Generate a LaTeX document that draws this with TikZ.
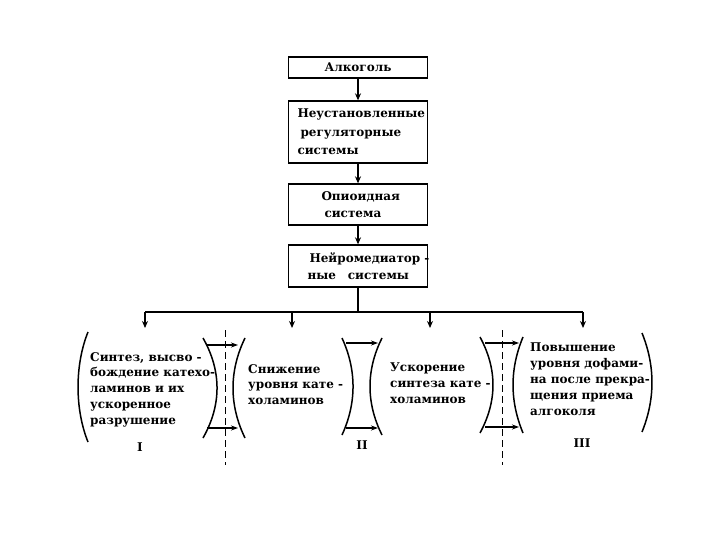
\documentclass[tikz,border=0pt]{standalone}
\usepackage{fontspec}
\setmainfont{DejaVu Serif}
\usetikzlibrary{arrows.meta,positioning,calc}

\begin{document}
\begin{tikzpicture}[x=1pt,y=-1pt,font=\bfseries\fontsize{12}{15.8}\selectfont]

\tikzset{levelbox/.style={draw,line width=1.3pt,minimum width=139pt,inner xsep=9pt,inner ysep=2pt,text width=121pt,align=left,font=\bfseries\fontsize{12}{17}\selectfont},
flowarrow/.style={line width=1.6pt,-{Stealth[length=7pt,width=6pt]}},
bracket/.style={line width=1.5pt},
innerarrow/.style={line width=1.1pt,-{Stealth[length=7pt,width=5pt]}},
axisline/.style={line width=0.8pt,dash pattern=on 7pt off 4pt},
blocktext/.style={anchor=north west,inner sep=0pt,align=left},
numeral/.style={inner sep=0pt,font=\bfseries\fontsize{12}{12}\selectfont}}

\useasboundingbox (0,0) rectangle (720,540);

% Chain of boxes
\node[levelbox,minimum height=21pt,align=center] (alc) at (358,67.5) {Алкоголь};
\node[levelbox,minimum height=62pt,font=\bfseries\fontsize{12}{18.5}\selectfont] (unk) at (358,132) {Неустановленные\\\hspace*{3pt}регуляторные\\системы};
\node[levelbox,minimum height=41pt] (opi) at (358,204.5) {\hspace*{24pt}Опиоидная\\\hspace*{27pt}система};
\node[levelbox,minimum height=42pt] (nmd) at (358,266) {\hspace*{12pt}Нейромедиатор\rlap{ -}\\\hspace*{10pt}ные\quad системы};

\draw[flowarrow] (alc) -- (unk);
\draw[flowarrow] (unk) -- (opi);
\draw[flowarrow] (opi) -- (nmd);

% Bus and drops
\coordinate (bus) at (358,312);
\coordinate (busL) at (145,312);
\coordinate (busR) at (583,312);
\draw[line width=1.6pt] (nmd) -- (bus);
\draw[line width=1.6pt] (busL) -- (busR);
\foreach \x [count=\i] in {145,292,430,583} {
  \coordinate (top\i) at (\x,312);
  \coordinate (drop\i) at (\x,328);
  \draw[flowarrow] (top\i) -- (drop\i);
}

% Texts of the phases
\node[blocktext] (syn) at (90,352) {Синтез, высво -\\бождение катехо-\\ламинов и их\\ускоренное\\разрушение};
\node[blocktext] (low) at (248,364) {Снижение\\уровня кате -\\холаминов};
\node[blocktext] (acc) at (390,363) {Ускорение\\синтеза кате -\\холаминов};
\node[blocktext] (dop) at (530,343) {Повышение\\уровня дофами-\\на после прекра-\\щения приема\\алгоколя};

\node[numeral] (n1) at (140,447) {I};
\node[numeral] (n2) at (362,445) {II};
\node[numeral] (n3) at (582,443) {III};

% Outer brackets
\draw[bracket] (88,332) .. controls (74.7,365) and (74.7,409) .. (88,442);
\draw[bracket] (642,333) .. controls (655.3,366) and (655.3,399) .. (642,432);

% Transitions
\draw[bracket] (203,338) .. controls (221.7,371) and (221.7,405) .. (203,438);
\draw[bracket] (245,338) .. controls (229,371) and (229,405) .. (245,438);
\draw[innerarrow] (207,345) -- (238,345);
\draw[innerarrow] (207,428) -- (238,428);
\draw[axisline] (225,330) -- (225,465);

\draw[bracket] (342,338) .. controls (356.7,370) and (356.7,403) .. (342,435);
\draw[bracket] (382,338) .. controls (366,370) and (366,403) .. (382,435);
\draw[innerarrow] (346,343) -- (378,343);
\draw[innerarrow] (346,428) -- (378,428);

\draw[bracket] (480,337) .. controls (497.3,369) and (497.3,401) .. (480,433);
\draw[bracket] (523,337) .. controls (509.7,369) and (509.7,401) .. (523,433);
\draw[innerarrow] (485,343) -- (519,343);
\draw[innerarrow] (485,427) -- (519,427);
\draw[axisline] (502,330) -- (502,465);

\end{tikzpicture}
\end{document}
